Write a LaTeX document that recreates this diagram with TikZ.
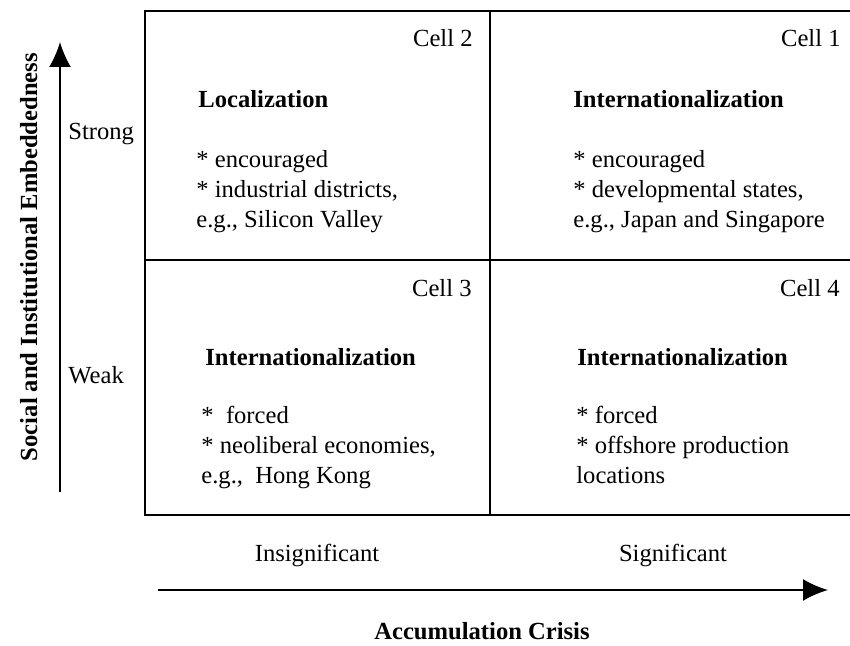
\documentclass[tikz,border=0pt]{standalone}
\usepackage{fontspec}
\setmainfont{Liberation Serif}
\usetikzlibrary{arrows.meta}

\begin{document}
\begin{tikzpicture}[x=0.5pt,y=-0.5pt,inner sep=0pt,>={Latex[length=12.5pt,width=11pt]},
  every node/.style={font=\fontsize{12.3}{15}\selectfont},
  head/.style={anchor=base west,font=\fontsize{12.3}{15}\selectfont\bfseries},
  items/.style={anchor=north west,align=left},
  cell/.style={anchor=base east},
  grid/.style={line width=1.1pt}]
\useasboundingbox (0,0) rectangle (850,646);
\draw [grid] (850,11) -| (145,515) -- (850,515);
\draw [grid] (145,260) -- (850,260);
\draw [grid] (490,11) -- (490,515);
\node [cell] (C2) at (473,47)  {Cell 2};
\node [cell] (C1) at (841,47)  {Cell 1};
\node [cell] (C3) at (472,297) {Cell 3};
\node [cell] (C4) at (840,297) {Cell 4};
\node [head] (H2) at (198,108) {Localization};
\node [head] (H1) at (573,108) {Internationalization};
\node [head] (H3) at (205,365) {Internationalization};
\node [head] (H4) at (577,365) {Internationalization};
\node [items] (L2) at (196,150) {* encouraged\\* industrial districts,\\e.g., Silicon Valley};
\node [items] (L1) at (573,150) {* encouraged\\* developmental states,\\e.g., Japan and Singapore};
\node [items] (L3) at (201,406) {*\ \ forced\\* neoliberal economies,\\e.g.,\ \ Hong Kong};
\node [items] (L4) at (576,406) {* forced\\* offshore production\\locations};
\node [anchor=base west] (S) at (68,140) {Strong};
\node [anchor=base west] (W) at (68,383) {Weak};
\node [anchor=base] (I) at (317,561) {Insignificant};
\node [anchor=base] (G) at (673,561) {Significant};
\node [anchor=base,font=\fontsize{12.3}{15}\selectfont\bfseries] (AC) at (482,639) {Accumulation Crisis};
\node [anchor=base,rotate=90,font=\fontsize{12.3}{15}\selectfont\bfseries] (SE) at (37,257) {Social and Institutional Embeddedness};
\coordinate (Y0) at (60,492);
\coordinate (Y1) at (60,42);
\coordinate (X0) at (158,590);
\coordinate (X1) at (828,590);
\draw [->,line width=1pt] (Y0) -- (Y1);
\draw [->,line width=1pt] (X0) -- (X1);
\end{tikzpicture}
\end{document}
